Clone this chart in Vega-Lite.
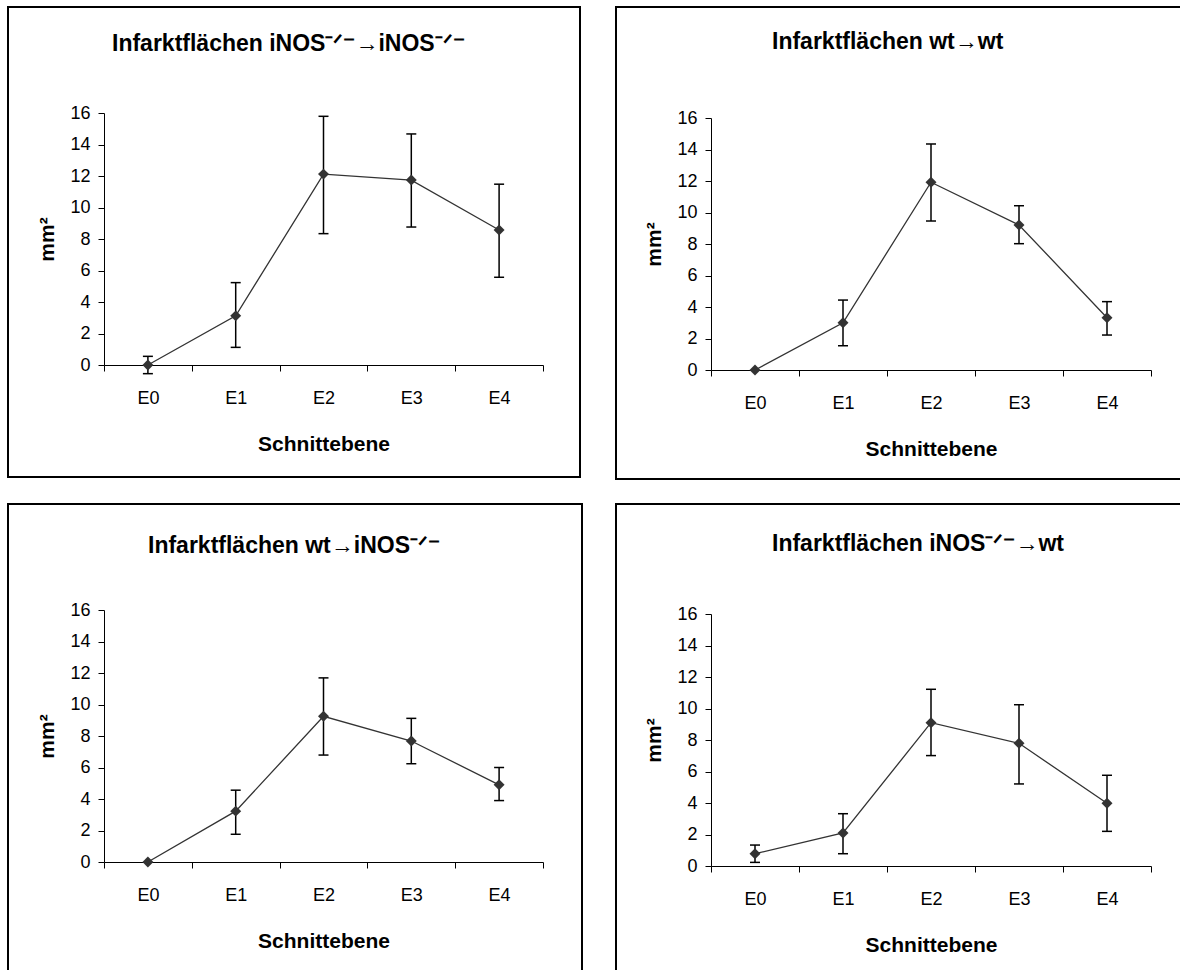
{
  "$schema": "https://vega.github.io/schema/vega-lite/v6.json",
  "background": "white",
  "padding": {"left": 7, "top": 6, "right": 0, "bottom": 0},
  "config": {
    "font": "Liberation Sans",
    "view": {"stroke": "black", "strokeWidth": 2},
    "axis": {"grid": false, "domainColor": "black", "tickColor": "black", "labelColor": "black", "titleColor": "black", "labelFont": "Liberation Sans", "titleFont": "Liberation Sans", "labelFontSize": 18, "titleFontSize": 21, "titleFontWeight": "bold", "tickSize": 6, "domainWidth": 1, "tickWidth": 1},
    "title": {"font": "Liberation Sans", "fontSize": 23, "fontWeight": "bold", "color": "black", "anchor": "start", "baseline": "middle", "offset": 0}
  },
  "datasets": {
    "infarct": [
      {"panel": "P1", "level": "E0", "mean": 0.0, "lo": -0.55, "hi": 0.55},
      {"panel": "P1", "level": "E1", "mean": 3.12, "lo": 1.12, "hi": 5.23},
      {"panel": "P1", "level": "E2", "mean": 12.12, "lo": 8.34, "hi": 15.79},
      {"panel": "P1", "level": "E3", "mean": 11.74, "lo": 8.76, "hi": 14.67},
      {"panel": "P1", "level": "E4", "mean": 8.57, "lo": 5.57, "hi": 11.48},
      {"panel": "P2", "level": "E0", "mean": 0.0, "lo": null, "hi": null},
      {"panel": "P2", "level": "E1", "mean": 3.0, "lo": 1.54, "hi": 4.44},
      {"panel": "P2", "level": "E2", "mean": 11.92, "lo": 9.46, "hi": 14.35},
      {"panel": "P2", "level": "E3", "mean": 9.21, "lo": 8.02, "hi": 10.43},
      {"panel": "P2", "level": "E4", "mean": 3.32, "lo": 2.22, "hi": 4.34},
      {"panel": "P3", "level": "E0", "mean": 0.0, "lo": null, "hi": null},
      {"panel": "P3", "level": "E1", "mean": 3.23, "lo": 1.76, "hi": 4.56},
      {"panel": "P3", "level": "E2", "mean": 9.25, "lo": 6.79, "hi": 11.69},
      {"panel": "P3", "level": "E3", "mean": 7.68, "lo": 6.24, "hi": 9.12},
      {"panel": "P3", "level": "E4", "mean": 4.9, "lo": 3.9, "hi": 6.0},
      {"panel": "P4", "level": "E0", "mean": 0.78, "lo": 0.23, "hi": 1.33},
      {"panel": "P4", "level": "E1", "mean": 2.1, "lo": 0.78, "hi": 3.32},
      {"panel": "P4", "level": "E2", "mean": 9.1, "lo": 7.01, "hi": 11.22},
      {"panel": "P4", "level": "E3", "mean": 7.79, "lo": 5.21, "hi": 10.24},
      {"panel": "P4", "level": "E4", "mean": 3.98, "lo": 2.2, "hi": 5.76}
    ]
  },
  "columns": 2,
  "spacing": {"column": 34, "row": 25},
  "bounds": "flush",
  "concat": [
    {
      "width": 572, "height": 470,
      "data": {"name": "infarct"},
      "transform": [{"filter": "datum.panel === 'P1'"}],
      "title": {"text": "Infarktflächen iNOS⁻ᐟ⁻→iNOS⁻ᐟ⁻", "dy": 53, "dx": 104},
      "encoding": {
        "x": {"field": "level", "type": "ordinal", "scale": {"type": "band", "range": [96, 535], "paddingInner": 0, "paddingOuter": 0},
              "axis": {"orient": "bottom", "offset": -112, "title": "Schnittebene", "tickBand": "extent", "labelAngle": 0, "labelPadding": 18, "titlePadding": 26}}
      },
      "layer": [
        {"mark": {"type": "line", "color": "#333333", "strokeWidth": 1.3},
         "encoding": {"y": {"field": "mean", "type": "quantitative", "scale": {"domain": [0, 16], "range": [358, 106], "nice": false, "zero": false},
                            "axis": {"orient": "left", "offset": -96, "title": "mm²", "values": [0, 2, 4, 6, 8, 10, 12, 14, 16], "labelPadding": 8, "titlePadding": 12}}}},
        {"transform": [{"filter": "datum.lo != null"}], "mark": {"type": "rule", "color": "black", "strokeWidth": 1.5},
         "encoding": {"y": {"field": "lo", "type": "quantitative"}, "y2": {"field": "hi"}}},
        {"transform": [{"filter": "datum.lo != null"}], "mark": {"type": "tick", "color": "black", "size": 10, "thickness": 1.5, "opacity": 1},
         "encoding": {"y": {"field": "lo", "type": "quantitative"}}},
        {"transform": [{"filter": "datum.lo != null"}], "mark": {"type": "tick", "color": "black", "size": 10, "thickness": 1.5, "opacity": 1},
         "encoding": {"y": {"field": "hi", "type": "quantitative"}}},
        {"mark": {"type": "point", "shape": "diamond", "filled": true, "color": "#333333", "size": 120, "opacity": 1},
         "encoding": {"y": {"field": "mean", "type": "quantitative"}}}
      ]
    },
    {
      "width": 572, "height": 472,
      "data": {"name": "infarct"},
      "transform": [{"filter": "datum.panel === 'P2'"}],
      "title": {"text": "Infarktflächen wt→wt", "dy": 51, "dx": 156},
      "encoding": {
        "x": {"field": "level", "type": "ordinal", "scale": {"type": "band", "range": [95, 535], "paddingInner": 0, "paddingOuter": 0},
              "axis": {"orient": "bottom", "offset": -109, "title": "Schnittebene", "tickBand": "extent", "labelAngle": 0, "labelPadding": 18, "titlePadding": 26}}
      },
      "layer": [
        {"mark": {"type": "line", "color": "#333333", "strokeWidth": 1.3},
         "encoding": {"y": {"field": "mean", "type": "quantitative", "scale": {"domain": [0, 16], "range": [363, 111], "nice": false, "zero": false},
                            "axis": {"orient": "left", "offset": -95, "title": "mm²", "values": [0, 2, 4, 6, 8, 10, 12, 14, 16], "labelPadding": 8, "titlePadding": 12}}}},
        {"transform": [{"filter": "datum.lo != null"}], "mark": {"type": "rule", "color": "black", "strokeWidth": 1.5},
         "encoding": {"y": {"field": "lo", "type": "quantitative"}, "y2": {"field": "hi"}}},
        {"transform": [{"filter": "datum.lo != null"}], "mark": {"type": "tick", "color": "black", "size": 10, "thickness": 1.5, "opacity": 1},
         "encoding": {"y": {"field": "lo", "type": "quantitative"}}},
        {"transform": [{"filter": "datum.lo != null"}], "mark": {"type": "tick", "color": "black", "size": 10, "thickness": 1.5, "opacity": 1},
         "encoding": {"y": {"field": "hi", "type": "quantitative"}}},
        {"mark": {"type": "point", "shape": "diamond", "filled": true, "color": "#333333", "size": 120, "opacity": 1},
         "encoding": {"y": {"field": "mean", "type": "quantitative"}}}
      ]
    },
    {
      "width": 574, "height": 470,
      "data": {"name": "infarct"},
      "transform": [{"filter": "datum.panel === 'P3'"}],
      "title": {"text": "Infarktflächen wt→iNOS⁻ᐟ⁻", "dy": 58, "dx": 140},
      "encoding": {
        "x": {"field": "level", "type": "ordinal", "scale": {"type": "band", "range": [96, 535], "paddingInner": 0, "paddingOuter": 0},
              "axis": {"orient": "bottom", "offset": -112, "title": "Schnittebene", "tickBand": "extent", "labelAngle": 0, "labelPadding": 18, "titlePadding": 26}}
      },
      "layer": [
        {"mark": {"type": "line", "color": "#333333", "strokeWidth": 1.3},
         "encoding": {"y": {"field": "mean", "type": "quantitative", "scale": {"domain": [0, 16], "range": [358, 106], "nice": false, "zero": false},
                            "axis": {"orient": "left", "offset": -96, "title": "mm²", "values": [0, 2, 4, 6, 8, 10, 12, 14, 16], "labelPadding": 8, "titlePadding": 12}}}},
        {"transform": [{"filter": "datum.lo != null"}], "mark": {"type": "rule", "color": "black", "strokeWidth": 1.5},
         "encoding": {"y": {"field": "lo", "type": "quantitative"}, "y2": {"field": "hi"}}},
        {"transform": [{"filter": "datum.lo != null"}], "mark": {"type": "tick", "color": "black", "size": 10, "thickness": 1.5, "opacity": 1},
         "encoding": {"y": {"field": "lo", "type": "quantitative"}}},
        {"transform": [{"filter": "datum.lo != null"}], "mark": {"type": "tick", "color": "black", "size": 10, "thickness": 1.5, "opacity": 1},
         "encoding": {"y": {"field": "hi", "type": "quantitative"}}},
        {"mark": {"type": "point", "shape": "diamond", "filled": true, "color": "#333333", "size": 120, "opacity": 1},
         "encoding": {"y": {"field": "mean", "type": "quantitative"}}}
      ]
    },
    {
      "width": 572, "height": 470,
      "data": {"name": "infarct"},
      "transform": [{"filter": "datum.panel === 'P4'"}],
      "title": {"text": "Infarktflächen iNOS⁻ᐟ⁻→wt", "dy": 56, "dx": 156},
      "encoding": {
        "x": {"field": "level", "type": "ordinal", "scale": {"type": "band", "range": [95, 535], "paddingInner": 0, "paddingOuter": 0},
              "axis": {"orient": "bottom", "offset": -108, "title": "Schnittebene", "tickBand": "extent", "labelAngle": 0, "labelPadding": 18, "titlePadding": 26}}
      },
      "layer": [
        {"mark": {"type": "line", "color": "#333333", "strokeWidth": 1.3},
         "encoding": {"y": {"field": "mean", "type": "quantitative", "scale": {"domain": [0, 16], "range": [362, 110], "nice": false, "zero": false},
                            "axis": {"orient": "left", "offset": -95, "title": "mm²", "values": [0, 2, 4, 6, 8, 10, 12, 14, 16], "labelPadding": 8, "titlePadding": 12}}}},
        {"transform": [{"filter": "datum.lo != null"}], "mark": {"type": "rule", "color": "black", "strokeWidth": 1.5},
         "encoding": {"y": {"field": "lo", "type": "quantitative"}, "y2": {"field": "hi"}}},
        {"transform": [{"filter": "datum.lo != null"}], "mark": {"type": "tick", "color": "black", "size": 10, "thickness": 1.5, "opacity": 1},
         "encoding": {"y": {"field": "lo", "type": "quantitative"}}},
        {"transform": [{"filter": "datum.lo != null"}], "mark": {"type": "tick", "color": "black", "size": 10, "thickness": 1.5, "opacity": 1},
         "encoding": {"y": {"field": "hi", "type": "quantitative"}}},
        {"mark": {"type": "point", "shape": "diamond", "filled": true, "color": "#333333", "size": 120, "opacity": 1},
         "encoding": {"y": {"field": "mean", "type": "quantitative"}}}
      ]
    }
  ]
}
